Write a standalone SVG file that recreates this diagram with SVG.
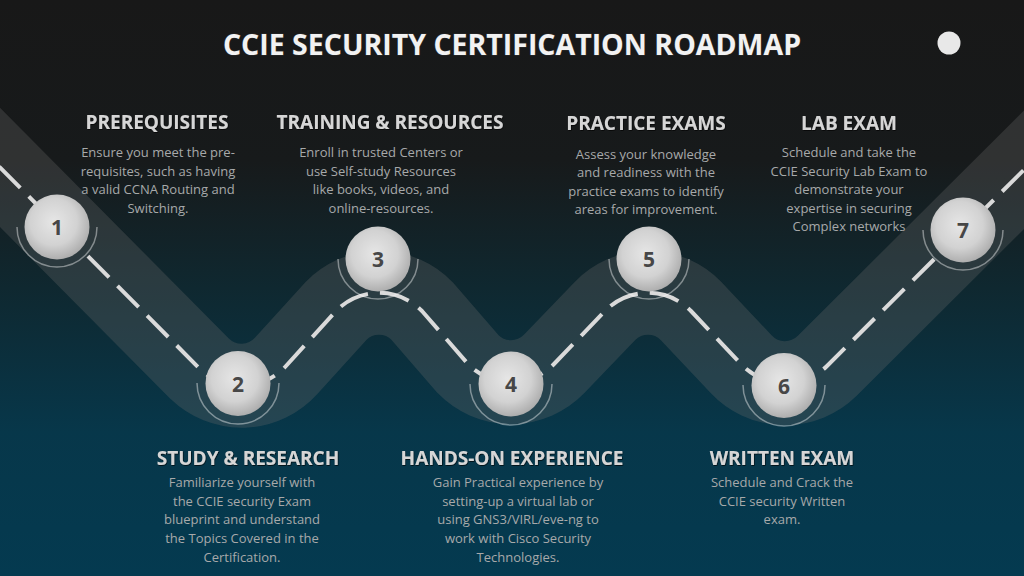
<svg xmlns="http://www.w3.org/2000/svg" width="1024" height="576" viewBox="0 0 1024 576">
  <defs>
    <linearGradient id="bg" x1="0" y1="0" x2="0" y2="1">
      <stop offset="0" stop-color="#181818"/>
      <stop offset="0.28" stop-color="#171a1b"/>
      <stop offset="0.5" stop-color="#0f2830"/>
      <stop offset="0.75" stop-color="#07374a"/>
      <stop offset="1" stop-color="#043a50"/>
    </linearGradient>
    <radialGradient id="ball" cx="0.45" cy="0.42" r="0.6">
      <stop offset="0" stop-color="#e6e6e6"/>
      <stop offset="0.6" stop-color="#d2d2d2"/>
      <stop offset="1" stop-color="#ababab"/>
    </radialGradient>
    <filter id="tshadow" x="-10%" y="-30%" width="120%" height="160%">
      <feDropShadow dx="0.6" dy="0.8" stdDeviation="0.6" flood-color="#000" flood-opacity="0.8"/>
    </filter>
  </defs>
  <style>
    .title { font-family: "Open Sans", "Liberation Sans", sans-serif; font-weight: 700; font-size: 28.5px; fill: #f2f2f2; stroke: #2b2b2b; stroke-width: 1.2px; paint-order: stroke; text-anchor: middle; }
    .head { font-family: "Open Sans", "Liberation Sans", sans-serif; font-weight: 700; font-size: 19px; fill: #d6d6d6; text-anchor: middle; filter: url(#tshadow); }
    .desc { font-family: "Open Sans", "Liberation Sans", sans-serif; font-size: 13px; fill: #a7a9aa; text-anchor: middle; }
    .road { fill: none; stroke: #6a6a6a; stroke-opacity: 0.3; stroke-width: 84; }
    .dash { fill: none; stroke: #dadada; stroke-width: 4; stroke-dasharray: 30 12; }
    .ball { fill: url(#ball); }
    .ring { fill: none; stroke: #ffffff; stroke-opacity: 0.42; stroke-width: 1.5; }
    .num { font-family: "Open Sans", "Liberation Sans", sans-serif; font-weight: 700; font-size: 21px; fill: #474747; text-anchor: middle; }
  </style>

  <rect x="0" y="0" width="1024" height="576" fill="url(#bg)"/>

  <g id="connectors">
    <path class="road" d="M -60,107 L 200,369 A 60 60 0 0 0 286,366 L 336,311 A 60 60 0 0 1 422,311 L 468,364 A 60 60 0 0 0 554,364 L 605,311 A 60 60 0 0 1 691,311 L 741,364 A 60 60 0 0 0 827,366 L 1090,104"/>
    <path class="dash" d="M -60,107 L 200,369 A 60 60 0 0 0 286,366 L 336,311 A 60 60 0 0 1 422,311 L 468,364 A 60 60 0 0 0 554,364 L 605,311 A 60 60 0 0 1 691,311 L 741,364 A 60 60 0 0 0 827,366 L 1090,104"/>
  </g>

  <g id="title">
    <text class="title" x="512" y="55">CCIE SECURITY CERTIFICATION ROADMAP</text>
    <circle cx="949" cy="43" r="11.5" fill="#e8e8e8"/>
  </g>

  <g id="node1">
    <path class="ring" d="M 17,227 A 40 40 0 0 0 97,227"/>
    <circle class="ball" cx="57" cy="227" r="32.5"/>
    <text class="num" x="57" y="235">1</text>
  </g>
  <g id="node2">
    <path class="ring" d="M 197,383 A 41 41 0 0 0 279,383"/>
    <circle class="ball" cx="238" cy="383.5" r="32.5"/>
    <text class="num" x="238" y="391.5">2</text>
  </g>
  <g id="node3">
    <path class="ring" d="M 338,259 A 40 40 0 0 0 418,259"/>
    <circle class="ball" cx="378" cy="259" r="32.5"/>
    <text class="num" x="378" y="267">3</text>
  </g>
  <g id="node4">
    <path class="ring" d="M 470,384 A 41 41 0 0 0 552,384"/>
    <circle class="ball" cx="511" cy="384" r="32.5"/>
    <text class="num" x="511" y="392">4</text>
  </g>
  <g id="node5">
    <path class="ring" d="M 609,259 A 40 40 0 0 0 689,259"/>
    <circle class="ball" cx="649" cy="259" r="32.5"/>
    <text class="num" x="649" y="267">5</text>
  </g>
  <g id="node6">
    <path class="ring" d="M 743,385 A 41 41 0 0 0 825,385"/>
    <circle class="ball" cx="784" cy="385.5" r="32.5"/>
    <text class="num" x="784" y="393.5">6</text>
  </g>
  <g id="node7">
    <path class="ring" d="M 923,230 A 40 40 0 0 0 1003,230"/>
    <circle class="ball" cx="963" cy="230" r="32.5"/>
    <text class="num" x="963" y="238">7</text>
  </g>

  <g id="label1">
    <text class="head" x="157" y="129">PREREQUISITES</text>
    <text class="desc" x="158" y="157">Ensure you meet the pre-</text>
    <text class="desc" x="158" y="175.5">requisites, such as having</text>
    <text class="desc" x="158" y="194">a valid CCNA Routing and</text>
    <text class="desc" x="158" y="212.5">Switching.</text>
  </g>
  <g id="label3">
    <text class="head" x="390" y="129">TRAINING &amp; RESOURCES</text>
    <text class="desc" x="381" y="157">Enroll in trusted Centers or</text>
    <text class="desc" x="381" y="175.5">use Self-study Resources</text>
    <text class="desc" x="381" y="194">like books, videos, and</text>
    <text class="desc" x="381" y="212.5">online-resources.</text>
  </g>
  <g id="label5">
    <text class="head" x="646" y="130">PRACTICE EXAMS</text>
    <text class="desc" x="646" y="158.5">Assess your knowledge</text>
    <text class="desc" x="646" y="177">and readiness with the</text>
    <text class="desc" x="646" y="195.5">practice exams to identify</text>
    <text class="desc" x="646" y="214">areas for improvement.</text>
  </g>
  <g id="label7">
    <text class="head" x="849" y="130">LAB EXAM</text>
    <text class="desc" x="849" y="157">Schedule and take the</text>
    <text class="desc" x="849" y="175.5">CCIE Security Lab Exam to</text>
    <text class="desc" x="849" y="194">demonstrate your</text>
    <text class="desc" x="849" y="212.5">expertise in securing</text>
    <text class="desc" x="849" y="231">Complex networks</text>
  </g>
  <g id="label2">
    <text class="head" x="248" y="464.5">STUDY &amp; RESEARCH</text>
    <text class="desc" x="242" y="486.5">Familiarize yourself with</text>
    <text class="desc" x="242" y="505.5">the CCIE security Exam</text>
    <text class="desc" x="242" y="524">blueprint and understand</text>
    <text class="desc" x="242" y="542.5">the Topics Covered in the</text>
    <text class="desc" x="242" y="561.5">Certification.</text>
  </g>
  <g id="label4">
    <text class="head" x="512" y="464.5">HANDS-ON EXPERIENCE</text>
    <text class="desc" x="518" y="486.5">Gain Practical experience by</text>
    <text class="desc" x="518" y="505.5">setting-up a virtual lab or</text>
    <text class="desc" x="518" y="524">using GNS3/VIRL/eve-ng to</text>
    <text class="desc" x="518" y="542.5">work with Cisco Security</text>
    <text class="desc" x="518" y="561.5">Technologies.</text>
  </g>
  <g id="label6">
    <text class="head" x="782" y="465">WRITTEN EXAM</text>
    <text class="desc" x="782" y="486.5">Schedule and Crack the</text>
    <text class="desc" x="782" y="505.5">CCIE security Written</text>
    <text class="desc" x="782" y="524">exam.</text>
  </g>
</svg>
